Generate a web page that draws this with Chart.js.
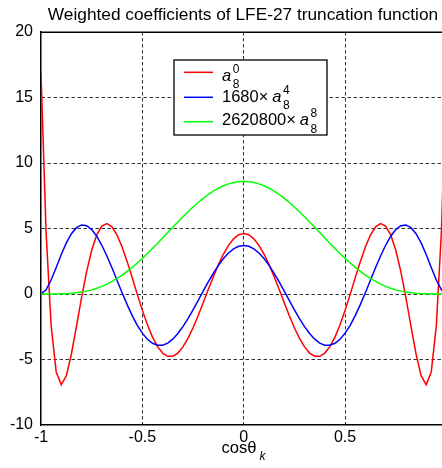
<!DOCTYPE html>
<html><head><meta charset="utf-8">
<script src="https://cdn.jsdelivr.net/npm/chart.js@4.4.1/dist/chart.umd.min.js"></script>
<style>html,body{margin:0;padding:0;background:#fff;overflow:hidden}#wrap{position:relative;width:442px;height:468px}</style>
</head><body><div id="wrap"><canvas id="c"></canvas></div>
<script>
const xValues = [-1,-0.975,-0.95,-0.925,-0.9,-0.875,-0.85,-0.825,-0.8,-0.775,-0.75,-0.725,-0.7,-0.675,-0.65,-0.625,-0.6,-0.575,-0.55,-0.525,-0.5,-0.475,-0.45,-0.425,-0.4,-0.375,-0.35,-0.325,-0.3,-0.275,-0.25,-0.225,-0.2,-0.175,-0.15,-0.125,-0.1,-0.075,-0.05,-0.025,0,0.025,0.05,0.075,0.1,0.125,0.15,0.175,0.2,0.225,0.25,0.275,0.3,0.325,0.35,0.375,0.4,0.425,0.45,0.475,0.5,0.525,0.55,0.575,0.6,0.625,0.65,0.675,0.7,0.725,0.75,0.775,0.8,0.825,0.85,0.875,0.9,0.925,0.95,0.975,1];
const a8_0 = [16.9,4.73,-2.43,-5.95,-6.92,-6.24,-4.58,-2.47,-0.28,1.71,3.34,4.51,5.18,5.37,5.13,4.50,3.59,2.47,1.24,-0.03,-1.25,-2.35,-3.29,-4.02,-4.51,-4.76,-4.75,-4.51,-4.04,-3.39,-2.58,-1.66,-0.67,0.34,1.32,2.24,3.05,3.71,4.21,4.52,4.62,4.52,4.21,3.71,3.05,2.24,1.32,0.34,-0.67,-1.66,-2.58,-3.39,-4.04,-4.51,-4.75,-4.76,-4.51,-4.02,-3.29,-2.35,-1.25,-0.03,1.24,2.47,3.59,4.50,5.13,5.37,5.18,4.51,3.34,1.71,-0.28,-2.47,-4.58,-6.24,-6.92,-5.95,-2.43,4.73,16.9];
const a8_4x1680 = [0,0.32,1.07,2.03,3.02,3.90,4.60,5.06,5.27,5.21,4.92,4.41,3.72,2.90,2.00,1.05,0.10,-0.81,-1.65,-2.39,-2.99,-3.46,-3.76,-3.91,-3.91,-3.75,-3.45,-3.02,-2.49,-1.88,-1.21,-0.50,0.22,0.92,1.58,2.19,2.71,3.13,3.44,3.64,3.70,3.64,3.44,3.13,2.71,2.19,1.58,0.92,0.22,-0.50,-1.21,-1.88,-2.49,-3.02,-3.45,-3.75,-3.91,-3.91,-3.76,-3.46,-2.99,-2.39,-1.65,-0.81,0.10,1.05,2.00,2.90,3.72,4.41,4.92,5.21,5.27,5.06,4.60,3.90,3.02,2.03,1.07,0.32,0];
const a8_8x2620800 = [0,0,0.001,0.004,0.011,0.026,0.051,0.089,0.144,0.219,0.315,0.436,0.582,0.755,0.957,1.186,1.443,1.727,2.036,2.368,2.721,3.092,3.479,3.876,4.282,4.691,5.099,5.503,5.897,6.279,6.643,6.986,7.304,7.594,7.852,8.075,8.261,8.408,8.514,8.578,8.6,8.578,8.514,8.408,8.261,8.075,7.852,7.594,7.304,6.986,6.643,6.279,5.897,5.503,5.099,4.691,4.282,3.876,3.479,3.092,2.721,2.368,2.036,1.727,1.443,1.186,0.957,0.755,0.582,0.436,0.315,0.219,0.144,0.089,0.051,0.026,0.011,0.004,0.001,0,0];
const seriesColors = ['#ff0000', '#0000ff', '#00ff00'];
const legendPrefix = ['', '1680\u00d7', '2620800\u00d7'];
const legendSup = ['0', '4', '8'];
const legendSub = ['8', '8', '8'];
const titleText = 'Weighted coefficients of LFE-27 truncation function';
const xTitleMain = 'cos\u03b8';
const xTitleSub = 'k';
const xMin = -1, xMax = 0.978, yMin = -10, yMax = 20;

const FONT = '"Liberation Sans", Arial, Helvetica, sans-serif';
const series = [a8_0, a8_4x1680, a8_8x2620800];
const toPts = arr => xValues.map((x, i) => ({x: x, y: arr[i]}));

const decor = {
  id: 'decor',
  afterDraw(chart) {
    const ctx = chart.ctx, a = chart.chartArea;
    ctx.save();
    ctx.strokeStyle = '#000'; ctx.lineWidth = 1.5; ctx.setLineDash([]);
    ctx.beginPath(); ctx.moveTo(a.left, a.top + 0.25); ctx.lineTo(a.right, a.top + 0.25); ctx.stroke();
    ctx.fillStyle = '#000';
    ctx.textBaseline = 'alphabetic';
    ctx.textAlign = 'center';
    ctx.font = '17.3px ' + FONT;
    ctx.fillText(titleText, 243, 19.5);
    ctx.textAlign = 'left';
    ctx.font = '16.6px ' + FONT;
    ctx.fillText(xTitleMain, 221.5, 453);
    const w = ctx.measureText(xTitleMain).width;
    ctx.font = 'italic 12px ' + FONT;
    ctx.fillText(xTitleSub, 221.5 + w + 3, 460);
    const bx = 174, by = 60, bw = 153, bh = 75;
    ctx.fillStyle = '#fff';
    ctx.fillRect(bx, by, bw, bh);
    ctx.strokeStyle = '#000'; ctx.lineWidth = 1.3;
    ctx.strokeRect(bx, by, bw, bh);
    const lineYs = [72.3, 97.3, 121.7];
    const baseYs = [80.5, 101.5, 125];
    for (let i = 0; i < 3; i++) {
      ctx.strokeStyle = seriesColors[i]; ctx.lineWidth = 1.5;
      ctx.beginPath(); ctx.moveTo(184, lineYs[i]); ctx.lineTo(213, lineYs[i]); ctx.stroke();
      ctx.fillStyle = '#000';
      let x = 222;
      ctx.font = '16.5px ' + FONT;
      if (legendPrefix[i]) {
        ctx.fillText(legendPrefix[i], x, baseYs[i]);
        x += ctx.measureText(legendPrefix[i]).width + 4;
      }
      ctx.font = 'italic 16.5px ' + FONT;
      ctx.fillText('a', x, baseYs[i]);
      x += ctx.measureText('a').width + 1.5;
      ctx.font = '12px ' + FONT;
      ctx.fillText(legendSup[i], x, baseYs[i] - 8);
      ctx.fillText(legendSub[i], x, baseYs[i] + 7.5);
    }
    ctx.restore();
  }
};

const gridCol = '#333333';
new Chart(document.getElementById('c'), {
  type: 'line',
  data: {
    datasets: series.map((arr, i) => ({
      data: toPts(arr),
      borderColor: seriesColors[i],
      backgroundColor: seriesColors[i],
      borderWidth: 1.5,
      pointRadius: 0,
      tension: 0,
      fill: false,
      order: 2 - i
    }))
  },
  options: {
    responsive: true,
    maintainAspectRatio: false,
    animation: false,
    devicePixelRatio: 1,
    layout: {padding: {top: 32, left: 0, right: 0, bottom: 0}},
    plugins: {legend: {display: false}, title: {display: false}, tooltip: {enabled: false}},
    scales: {
      x: {
        type: 'linear', min: xMin, max: xMax,
        afterFit: s => { s.height = 43; },
        ticks: {stepSize: 0.5, includeBounds: false, padding: 3, color: '#000', font: {size: 16, family: FONT}, maxRotation: 0,
          callback: v => String(Math.round(v * 100) / 100)},
        grid: {drawTicks: false, lineWidth: 1,
          color: c => (c.tick && c.tick.value <= -1) ? 'rgba(0,0,0,0)' : gridCol},
        border: {display: true, color: '#000', width: 1.5, dash: [3.5, 2.5]}
      },
      y: {
        type: 'linear', min: yMin, max: yMax,
        afterFit: s => { s.width = 41; },
        ticks: {stepSize: 5, padding: 8, color: '#000', font: {size: 16, family: FONT}},
        grid: {drawTicks: false, lineWidth: 1,
          color: c => (c.tick && (c.tick.value === yMin || c.tick.value === yMax)) ? 'rgba(0,0,0,0)' : gridCol},
        border: {display: true, color: '#000', width: 1.5, dash: [3.5, 2.5]}
      }
    }
  },
  plugins: [decor]
});
</script>
</body></html>
